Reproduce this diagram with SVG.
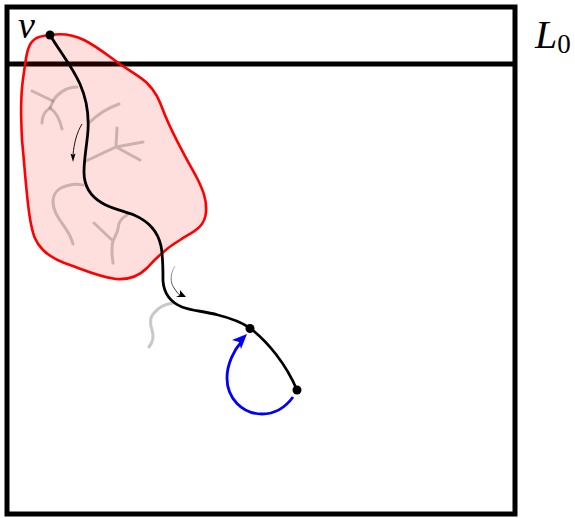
<svg xmlns="http://www.w3.org/2000/svg" width="575" height="518" viewBox="0 0 575 518">
  <style>
    .frame { fill: none; stroke: #000; stroke-width: 5; }
    .twig { fill: none; stroke: #7f6f6f; stroke-opacity: .4; stroke-width: 3; stroke-linecap: round; }
    .math { font-family: "Liberation Serif", "DejaVu Serif", serif; fill: #000; }
    .thin { fill: none; stroke: #000; stroke-width: .9; }
  </style>
  <defs>
    <linearGradient id="fade" gradientUnits="userSpaceOnUse" x1="175" y1="266" x2="181" y2="296">
      <stop offset="0" stop-color="#aaa"/>
      <stop offset="1" stop-color="#000"/>
    </linearGradient>
  </defs>
  <rect width="575" height="518" fill="#fff"/>

  <g id="frame">
    <rect class="frame" x="7" y="7" width="508" height="507"/>
    <path class="frame" d="M7 64H515"/>
  </g>

  <g id="region">
    <path d="M50 35C62 33 72 34 84 40C96 46 106 54 117 62C128 70 140 76 147 83C156 92 159 100 163 110C172 134 185 156 197 178C203 190 207 200 206 212C205 228 192 232 180 240C168 247 156 258 147 268C138 277 128 280 116 279C100 277 84 270 70 265C58 261 50 257 43 250C35 242 33 234 31 224C27 206 25 170 22 140C21 118 20 96 24 72C26 58 27 44 35 39C39 36 44 36 50 35Z" fill="#ff0000" fill-opacity=".13" stroke="#ff0000" stroke-width="2.6"/>
  </g>

  <g id="branches">
    <path class="twig" d="M32 91L53 101"/>
    <path class="twig" d="M77 87C66 87 57 94 53 101C52 104 51 106 50 108"/>
    <path class="twig" d="M42 123C42 117 45 111 50 108C56 112 60 120 62 129"/>
    <path class="twig" d="M119 104C108 108 98 114 90 122"/>
    <path class="twig" d="M86 161L116 147L143 142M117 128L116 147L140 160"/>
    <path class="twig" d="M83 185C78 184 72 184 66 186C58 188 53 194 53 202C53 212 60 220 66 229C70 235 72 240 73 244"/>
    <path class="twig" d="M94 223L113 241M127 215C120 219 118 224 118 229C117 234 114 238 113 241C111 248 112 256 113 263"/>
    <path d="M173 303C165 304 158 308 154 313C149 318 150 324 152 330C154 336 153 342 149 347" fill="none" stroke="#c8c8c8" stroke-width="3" stroke-linecap="round"/>
  </g>

  <g id="connectors">
    <path d="M50 35C60 52 72 66 80 84C87 100 89 114 88 130C87 145 84 158 84 172C84 186 90 196 102 203C112 209 124 211 134 215C148 221 158 232 161 246C163 256 163 270 163 281C164 294 170 302 182 307C192 311 204 311 218 315C230 318 241 322 250 328C268 342 286 364 297 390" fill="none" stroke="#000" stroke-width="2.8"/>
    <path d="M293 397C285 408 274 414 262 414C242 414 227 398 227 378C227 364 234 350 242 341" fill="none" stroke="#0000ff" stroke-width="2.8"/>
    <path d="M247 334L241 349L239 342L232 340Z" fill="#0000ff"/>
    <path class="thin" d="M82 124C77 132 74 143 73 155"/>
    <path d="M73 162L70.500 153.500L73 155L75.500 153.500Z" fill="#000"/>
    <path d="M175 266C170 274 170 282 174 288C176 291 178 294 181 296" fill="none" stroke="url(#fade)" stroke-width=".9"/>
    <path d="M186 297L176 297L180 295L180 290Z" fill="#000"/>
  </g>

  <g id="v">
    <circle cx="50" cy="35" r="4.500" fill="#000"/>
    <text class="math" x="18" y="38" font-size="38" font-style="italic">v</text>
  </g>
  <g id="junction">
    <circle cx="250" cy="328.500" r="4.500" fill="#000"/>
  </g>
  <g id="end">
    <circle cx="297" cy="390" r="4.500" fill="#000"/>
  </g>
  <g id="level">
    <text class="math" x="535" y="48" font-size="40" font-style="italic">L<tspan font-size="27" font-style="normal" dy="5">0</tspan></text>
  </g>
</svg>
